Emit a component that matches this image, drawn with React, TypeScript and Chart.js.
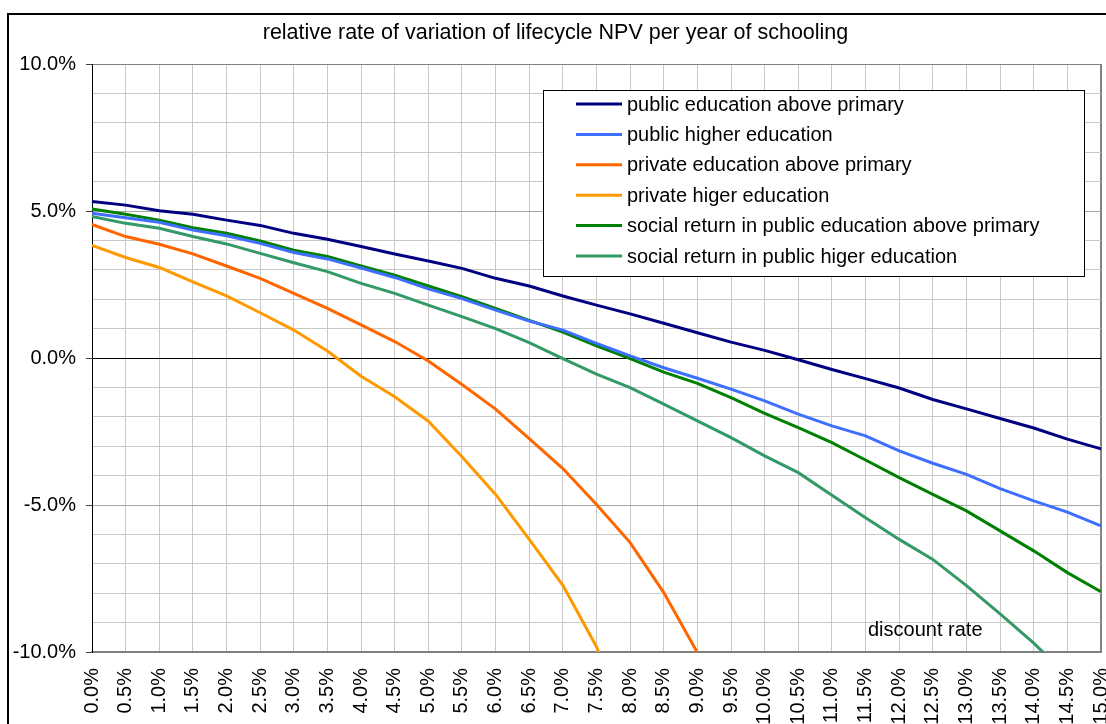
import React, { useEffect, useRef } from "react";
import { Chart, registerables } from "chart.js";

Chart.register(...registerables);

const FONT = '"Liberation Sans", Arial, Helvetica, sans-serif';

const chartTitle = "relative rate of variation of lifecycle NPV per year of schooling";
const xAxisTitle = "discount rate";

const discountRates = [
  "0.0%", "0.5%", "1.0%", "1.5%", "2.0%", "2.5%", "3.0%", "3.5%", "4.0%", "4.5%",
  "5.0%", "5.5%", "6.0%", "6.5%", "7.0%", "7.5%", "8.0%", "8.5%", "9.0%", "9.5%",
  "10.0%", "10.5%", "11.0%", "11.5%", "12.0%", "12.5%", "13.0%", "13.5%", "14.0%", "14.5%", "15.0%",
];

const publicAbovePrimary = [
  5.32, 5.2, 5.01, 4.89, 4.69, 4.51, 4.24, 4.04, 3.79, 3.54, 3.3, 3.05, 2.71, 2.45, 2.11, 1.8,
  1.5, 1.18, 0.86, 0.54, 0.26, -0.06, -0.39, -0.7, -1.02, -1.41, -1.73, -2.06, -2.38, -2.76, -3.09,
];
const publicHigher = [
  4.92, 4.77, 4.62, 4.35, 4.16, 3.9, 3.59, 3.37, 3.06, 2.74, 2.35, 2.02, 1.63, 1.26, 0.95, 0.5,
  0.07, -0.33, -0.69, -1.06, -1.46, -1.91, -2.31, -2.65, -3.16, -3.58, -3.96, -4.44, -4.86, -5.24, -5.71,
];
const privateAbovePrimary = [
  4.54, 4.13, 3.87, 3.54, 3.13, 2.71, 2.2, 1.69, 1.13, 0.56, -0.1, -0.9, -1.74, -2.74, -3.76, -4.98,
  -6.28, -7.98, -10.02, -12.6,
];
const privateHigher = [
  3.83, 3.42, 3.08, 2.59, 2.11, 1.54, 0.95, 0.24, -0.62, -1.32, -2.15, -3.36, -4.64, -6.17, -7.73, -9.82,
  -12.6,
];
const socialAbovePrimary = [
  5.07, 4.89, 4.69, 4.43, 4.24, 3.98, 3.67, 3.45, 3.13, 2.82, 2.45, 2.09, 1.69, 1.28, 0.88, 0.41,
  -0.02, -0.48, -0.86, -1.35, -1.88, -2.37, -2.88, -3.47, -4.07, -4.64, -5.2, -5.88, -6.56, -7.3, -7.95,
];
const socialHigher = [
  4.81, 4.58, 4.41, 4.13, 3.88, 3.56, 3.24, 2.94, 2.54, 2.2, 1.8, 1.41, 1.0, 0.52, -0.02, -0.55,
  -1.01, -1.57, -2.14, -2.71, -3.33, -3.9, -4.67, -5.43, -6.17, -6.85, -7.74, -8.7, -9.7, -10.8,
];

const seriesNames = [
  "public education above primary",
  "public higher education",
  "private education above primary",
  "private higer education",
  "social return in public education above primary",
  "social return in public higer education",
];
const seriesValues = [
  publicAbovePrimary,
  publicHigher,
  privateAbovePrimary,
  privateHigher,
  socialAbovePrimary,
  socialHigher,
];
const seriesColors = ["#000080", "#3f6fff", "#ff6600", "#ff9900", "#008000", "#339966"];

const yTickValues = [-10, -5, 0, 5, 10];

const overlayPlugin = {
  id: "overlay",
  afterDatasetsDraw(chart: any) {
    const ctx = chart.ctx as CanvasRenderingContext2D;
    ctx.save();
    // legend box
    const bx = 543;
    const by = 90;
    const bw = 541;
    const bh = 186;
    ctx.fillStyle = "#ffffff";
    ctx.fillRect(bx, by, bw, bh);
    ctx.strokeStyle = "#000000";
    ctx.lineWidth = 1;
    ctx.strokeRect(bx + 0.5, by + 0.5, bw, bh);
    ctx.font = `20px ${FONT}`;
    ctx.textBaseline = "middle";
    ctx.textAlign = "left";
    chart.data.datasets.forEach((ds: any, i: number) => {
      const y = by + 14 + i * 30.4;
      ctx.strokeStyle = ds.borderColor;
      ctx.lineWidth = 3;
      ctx.beginPath();
      ctx.moveTo(576, y);
      ctx.lineTo(622, y);
      ctx.stroke();
      ctx.fillStyle = "#000000";
      ctx.fillText(ds.label, 627, y + 1);
    });
    // axis title inside plot
    ctx.fillStyle = "#000000";
    ctx.fillText(xAxisTitle, 868, 630);
    ctx.restore();
  },
  afterDraw(chart: any) {
    const ctx = chart.ctx as CanvasRenderingContext2D;
    ctx.save();
    ctx.strokeStyle = "#000000";
    ctx.lineWidth = 2;
    ctx.strokeRect(8, 14, 1110, 720);
    ctx.restore();
  },
};

export default function App() {
  const canvasRef = useRef<HTMLCanvasElement | null>(null);

  useEffect(() => {
    if (!canvasRef.current) return;
    const lastIndex = discountRates.length - 1;
    const chart = new Chart(canvasRef.current, {
      type: "line",
      data: {
        labels: discountRates,
        datasets: seriesNames.map((name, i) => ({
          label: name,
          data: seriesValues[i],
          borderColor: seriesColors[i],
          backgroundColor: seriesColors[i],
          borderWidth: 3,
          pointRadius: 0,
          pointHoverRadius: 0,
          tension: 0,
          fill: false,
        })),
      },
      options: {
        responsive: false,
        animation: false,
        devicePixelRatio: 1,
        layout: { padding: { left: 10, right: 5, top: 0, bottom: 0 } },
        plugins: {
          legend: { display: false },
          tooltip: { enabled: false },
          title: {
            display: true,
            text: chartTitle,
            color: "#000000",
            font: { family: FONT, size: 21.5, weight: "normal" },
            padding: { top: 20, bottom: 18.2 },
          },
        },
        scales: {
          x: {
            type: "category",
            ticks: {
              autoSkip: false,
              minRotation: 90,
              maxRotation: 90,
              padding: 16,
              color: "#000000",
              font: { family: FONT, size: 20 },
            },
            grid: {
              drawTicks: false,
              color: (c: any) => (c.index === lastIndex ? "#808080" : "#c8c8c8"),
              lineWidth: (c: any) => (c.index === lastIndex ? 2 : 1),
            },
            border: { color: "#808080", width: 2 },
            afterFit: (s: any) => {
              s.height = 72;
              s.paddingLeft = 0;
              s.paddingRight = 0;
            },
          },
          y: {
            min: -10,
            max: 10,
            ticks: {
              stepSize: 1,
              autoSkip: false,
              padding: 10,
              color: "#000000",
              font: { family: FONT, size: 20 },
              callback: (v: any) =>
                yTickValues.includes(Number(v)) ? `${Number(v).toFixed(1)}%` : "",
            },
            grid: {
              tickLength: 6,
              color: (c: any) => {
                const v = c.tick ? c.tick.value : 1;
                if (v === 0) return "#000000";
                if (v === 10) return "#808080";
                if (Math.abs(v) === 5) return "#a6a6a6";
                return "#c8c8c8";
              },
              tickColor: (c: any) =>
                c.tick && yTickValues.includes(c.tick.value) ? "#404040" : "rgba(0,0,0,0)",
            },
            border: { color: "#000000", width: 1 },
            afterFit: (s: any) => {
              s.width = 82;
              s.paddingTop = 0;
              s.paddingBottom = 0;
            },
          },
        },
      },
      plugins: [overlayPlugin],
    });
    return () => chart.destroy();
  }, []);

  return (
    <div style={{ position: "absolute", left: 0, top: 0, width: 1106, height: 724, background: "#fff" }}>
      <canvas ref={canvasRef} width={1106} height={724} style={{ display: "block" }} />
    </div>
  );
}
